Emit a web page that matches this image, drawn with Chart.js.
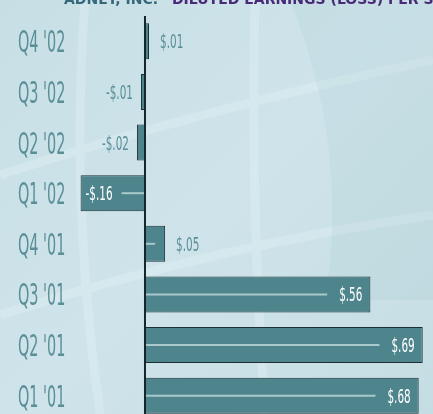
<!DOCTYPE html>
<html>
<head>
<meta charset="utf-8">
<script src="https://cdn.jsdelivr.net/npm/chart.js@4"></script>
<style>
  html, body { margin: 0; padding: 0; overflow: hidden; background: #c9e0e6; }
  #wrap { width: 433px; height: 421px; position: relative; }
</style>
</head>
<body>
<div id="wrap"><canvas id="myChart"></canvas></div>
<script>
const quarters = ["Q4 '02", "Q3 '02", "Q2 '02", "Q1 '02", "Q4 '01", "Q3 '01", "Q2 '01", "Q1 '01"];
const eps = [0.01, -0.01, -0.02, -0.16, 0.05, 0.56, 0.69, 0.68];
const epsLabels = ['$.01', '-$.01', '-$.02', '-$.16', '$.05', '$.56', '$.69', '$.68'];

const teal = '#5b8f98';

// draws narrow text by squeezing a normal font sideways
function narrowText(ctx, text, x, y, size, sx, align, color, weight) {
  ctx.save();
  ctx.font = (weight || 'normal') + ' ' + size + 'px "DejaVu Sans"';
  ctx.fillStyle = color;
  ctx.textBaseline = 'alphabetic';
  const w = ctx.measureText(text).width * sx;
  let left = x;
  if (align === 'right') left = x - w;
  if (align === 'center') left = x - w / 2;
  ctx.translate(left, y);
  ctx.scale(sx, 1);
  ctx.textAlign = 'left';
  ctx.fillText(text, 0, 0);
  ctx.restore();
  return w;
}

const backdrop = {
  id: 'backdrop',
  beforeDraw(chart) {
    const ctx = chart.ctx;
    const w = chart.width, h = chart.height;
    ctx.save();
    const g = ctx.createLinearGradient(0, 0, w, h);
    g.addColorStop(0, '#c6dfe5');
    g.addColorStop(0.5, '#cfe4ea');
    g.addColorStop(1, '#c4dde3');
    ctx.fillStyle = g;
    ctx.fillRect(0, 0, w, h);
    // faint globe lines
    ctx.strokeStyle = 'rgba(225,240,244,0.4)';
    ctx.lineWidth = 9;
    ctx.beginPath();
    ctx.moveTo(0, 175); ctx.quadraticCurveTo(200, 110, 433, 60);
    ctx.moveTo(0, 315); ctx.quadraticCurveTo(220, 245, 433, 215);
    ctx.moveTo(85, 0); ctx.quadraticCurveTo(70, 200, 100, 414);
    ctx.moveTo(255, 0); ctx.quadraticCurveTo(250, 200, 265, 414);
    ctx.stroke();
    ctx.fillStyle = 'rgba(150,190,200,0.14)';
    ctx.beginPath();
    ctx.moveTo(290, 0); ctx.quadraticCurveTo(350, 150, 325, 300); ctx.lineTo(433, 300); ctx.lineTo(433, 0);
    ctx.fill();
    ctx.restore();
  }
};

const annotate = {
  id: 'annotate',
  afterDatasetsDraw(chart) {
    const ctx = chart.ctx;
    const xs = chart.scales.x, ys = chart.scales.y;
    const x0 = xs.getPixelForValue(0);
    const area = chart.chartArea;

    // partly cropped title at the very top
    ctx.save();
    ctx.font = 'bold 14px "DejaVu Sans"';
    ctx.textBaseline = 'alphabetic';
    ctx.fillStyle = '#35687a';
    ctx.fillText('ADNET, INC.', 64, 4);
    ctx.fillStyle = '#4a2a78';
    ctx.fillText('DILUTED EARNINGS (LOSS) PER SHARE', 172, 4);
    ctx.restore();

    const meta = chart.getDatasetMeta(0);
    quarters.forEach((q, i) => {
      const cy = ys.getPixelForValue(i);
      narrowText(ctx, q, 18, cy + 11, 30, 0.48, 'left', teal);

      const v = eps[i];
      const xe = xs.getPixelForValue(v);
      ctx.save();
      ctx.strokeStyle = '#a9c9cd';
      ctx.lineWidth = 2;
      if (v > 0.1) {
        const w = narrowText(ctx, epsLabels[i], xe - 8, cy + 7, 19, 0.55, 'right', '#ffffff');
        ctx.beginPath(); ctx.moveTo(x0, cy); ctx.lineTo(xe - 8 - w - 12, cy); ctx.stroke();
      } else if (v < -0.1) {
        const w = narrowText(ctx, epsLabels[i], xe + 5, cy + 7, 19, 0.55, 'left', '#ffffff');
        ctx.beginPath(); ctx.moveTo(xe + 5 + w + 9, cy); ctx.lineTo(x0, cy); ctx.stroke();
      } else if (v > 0) {
        narrowText(ctx, epsLabels[i], xe + 11, cy + 7, 19, 0.55, 'left', teal);
        if (xe - 10 > x0 + 4) {
          ctx.beginPath(); ctx.moveTo(x0, cy); ctx.lineTo(xe - 10, cy); ctx.stroke();
        }
      } else {
        narrowText(ctx, epsLabels[i], xe - 8, cy + 7, 19, 0.55, 'right', teal);
      }
      ctx.restore();
    });

    // zero axis
    ctx.save();
    ctx.strokeStyle = '#15272a';
    ctx.lineWidth = 2;
    ctx.beginPath();
    ctx.moveTo(x0, area.top);
    ctx.lineTo(x0, area.bottom);
    ctx.stroke();
    ctx.restore();
  }
};

const data = {
  labels: quarters,
  datasets: [{
    data: eps,
    backgroundColor: '#4e858d',
    borderColor: '#1c3033',
    borderWidth: 1,
    borderSkipped: false,
    barPercentage: 0.71,
    categoryPercentage: 1
  }]
};

const config = {
  type: 'bar',
  data: data,
  options: {
    indexAxis: 'y',
    responsive: true,
    maintainAspectRatio: false,
    animation: false,
    layout: { padding: { top: 16, bottom: 0, left: 0, right: 0 } },
    plugins: { legend: { display: false }, tooltip: { enabled: false } },
    scales: {
      x: { display: false, min: -0.3602, max: 0.7155 },
      y: { display: false }
    }
  },
  plugins: [backdrop, annotate]
};

const myChart = new Chart(document.getElementById('myChart'), config);
</script>
</body>
</html>
